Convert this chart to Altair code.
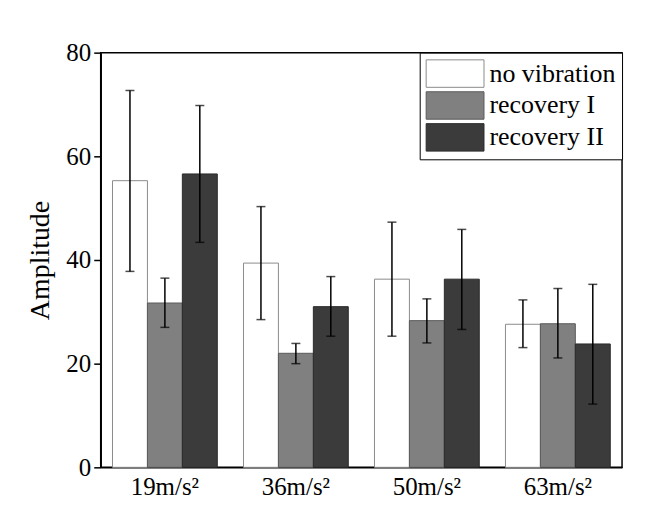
import altair as alt
import pandas as pd

accels = ["19m/s²", "36m/s²", "50m/s²", "63m/s²"]
conds = ["no vibration", "recovery I", "recovery II"]

nv_mean = [55.3, 39.4, 36.3, 27.6]
nv_lo = [37.8, 28.5, 25.3, 23.1]
nv_hi = [72.7, 50.3, 47.3, 32.3]

r1_mean = [31.7, 22.0, 28.3, 27.7]
r1_lo = [27.0, 20.0, 24.0, 21.1]
r1_hi = [36.5, 23.9, 32.5, 34.5]

r2_mean = [56.6, 31.0, 36.3, 23.8]
r2_lo = [43.4, 25.3, 26.6, 12.2]
r2_hi = [69.8, 36.8, 45.9, 35.3]

fills = ["#ffffff", "#808080", "#3b3b3b"]
strokes = ["#8c8c8c", "#5a5a5a", "#2a2a2a"]

rows = []
for cond, m, lo, hi in [
    (conds[0], nv_mean, nv_lo, nv_hi),
    (conds[1], r1_mean, r1_lo, r1_hi),
    (conds[2], r2_mean, r2_lo, r2_hi),
]:
    for a, mv, l, h in zip(accels, m, lo, hi):
        rows.append({"accel": a, "cond": cond, "mean": mv, "lo": l, "hi": h})
df = pd.DataFrame(rows)

FONT = "Liberation Serif"

x = alt.X("accel:N", sort=accels, title=None,
          scale=alt.Scale(paddingInner=0.2, paddingOuter=0.09),
          axis=alt.Axis(labelAngle=0, ticks=False, labelFontSize=25,
                        labelPadding=7, domainWidth=1.5))
xo = alt.XOffset("cond:N", sort=conds,
                 scale=alt.Scale(paddingInner=0, paddingOuter=0))

base = alt.Chart(df)

bars = base.mark_bar(strokeWidth=1).encode(
    x=x,
    xOffset=xo,
    y=alt.Y("mean:Q", title="Amplitude",
            scale=alt.Scale(domain=[0, 80], nice=False),
            axis=alt.Axis(values=[0, 20, 40, 60, 80], grid=False,
                          labelFontSize=25, titleFontSize=28,
                          titleFontWeight="normal", tickSize=7,
                          labelPadding=3, titlePadding=11, domainWidth=1.5,
                          tickWidth=1.5)),
    fill=alt.Fill("cond:N", sort=conds,
                  scale=alt.Scale(domain=conds, range=fills),
                  legend=alt.Legend(
                      title=None, orient="none", legendX=320, legendY=0,
                      symbolType="M-1,-0.95H3V0.95H-1Z", symbolSize=841,
                      symbolStrokeColor="#444444", symbolStrokeWidth=1,
                      labelFontSize=26, labelFont=FONT, labelColor="black",
                      labelOffset=34, rowPadding=0, padding=6,
                      strokeColor="black", fillColor="white",
                      labelLimit=300)),
    stroke=alt.Stroke("cond:N", sort=conds,
                      scale=alt.Scale(domain=conds, range=strokes),
                      legend=None),
)

rule = base.mark_rule(color="black", strokeWidth=1.5).encode(
    x=alt.X("accel:N", sort=accels),
    xOffset=xo,
    y="lo:Q",
    y2="hi:Q",
)
cap_lo = base.mark_tick(color="black", orient="horizontal", size=9,
                        thickness=1.5).encode(
    x=alt.X("accel:N", sort=accels), xOffset=xo, y="lo:Q")
cap_hi = base.mark_tick(color="black", orient="horizontal", size=9,
                        thickness=1.5).encode(
    x=alt.X("accel:N", sort=accels), xOffset=xo, y="hi:Q")

chart = alt.layer(bars, rule, cap_lo, cap_hi).properties(
    width=523, height=416,
    padding={"left": 93, "top": 44, "right": 15, "bottom": 38},
    autosize=alt.AutoSizeParams(type="none"),
).configure(
    font=FONT,
).configure_axis(
    labelFont=FONT, titleFont=FONT, labelColor="black", titleColor="black",
    domainColor="black", tickColor="black",
).configure_view(
    stroke="black", strokeWidth=1.5,
)

chart.save("out.html", embed_options={"renderer": "svg", "actions": False})
